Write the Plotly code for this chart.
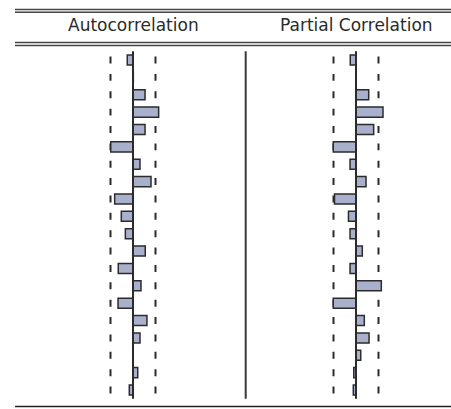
import plotly.graph_objects as go

# Correlogram: sample autocorrelation and partial autocorrelation, lags 1-20
lags = list(range(1, 21))
acf = [-0.051, 0.003, 0.107, 0.228, 0.107, -0.198, 0.062, 0.160, -0.163, -0.104,
       -0.068, 0.109, -0.131, 0.071, -0.133, 0.124, 0.062, -0.002, 0.042, -0.033]
pacf = [-0.051, 0.001, 0.113, 0.240, 0.157, -0.202, -0.053, 0.089, -0.191, -0.067,
        -0.053, 0.056, -0.053, 0.225, -0.202, 0.074, 0.116, 0.042, -0.020, -0.024]
band = 0.2  # approx. 2 standard-error bounds
headers = ["Autocorrelation", "Partial Correlation"]

W, H = 451, 409
bar_fill = "#a9b0cc"
ink = "#2b2b2b"

# horizontal scale: pixels per correlation unit, and pixel position of each zero line
px_per_unit = 112.5
zero_px = [133, 356]
half_w = W / 2
row0_px, row_step = 60, 17.37

def xrange_for(zero, dom_left):
    lo = -(zero - dom_left) / px_per_unit
    return [lo, lo + half_w / px_per_unit]

y_top = 1 - row0_px / row_step
y_bot = y_top + H / row_step

fig = go.Figure()
for i, (vals, xa) in enumerate([(acf, "x"), (pacf, "x2")]):
    fig.add_trace(go.Bar(
        x=vals, y=lags, orientation="h", width=0.58, xaxis=xa, yaxis="y",
        marker=dict(color=bar_fill, line=dict(color=ink, width=1.5)),
        showlegend=False, hoverinfo="x+y"))
    # dashed confidence bounds: one short dash per lag, behind the bars
    for s in (-1, 1):
        for lag in lags:
            fig.add_shape(type="line", xref=xa, yref="y", layer="below",
                          x0=s * band, x1=s * band, y0=lag - 0.2, y1=lag + 0.2,
                          line=dict(color=ink, width=2))
    # zero line of each panel
    fig.add_shape(type="line", xref=xa, yref="y", x0=0, x1=0,
                  y0=lags[0] - 0.5, y1=lags[-1] + 0.5,
                  line=dict(color=ink, width=2))
    fig.add_annotation(text=headers[i], xref=xa, yref="paper", x=0,
                       y=1 - 25 / H, showarrow=False, xanchor="center",
                       yanchor="middle",
                       font=dict(family="DejaVu Sans", size=17, color="#2a2a2a"))

# separator between the two panels
fig.add_shape(type="line", xref="paper", yref="y", x0=245.7 / W, x1=245.7 / W,
              y0=lags[0] - 0.5, y1=lags[-1] + 0.5, line=dict(color="#3a3a3a", width=2))

# table rules: double line on top, double line under the header, single at bottom
def hrule(py, width=1.5, color="#444"):
    fig.add_shape(type="line", xref="paper", yref="paper", x0=15 / W, x1=1,
                  y0=1 - py / H, y1=1 - py / H, line=dict(color=color, width=width))

for py in (9.5, 12.2, 42.5, 45.5):
    hrule(py)
hrule(406.5, 1.5, "#222")

fig.update_layout(
    width=W, height=H, margin=dict(l=0, r=0, t=0, b=0),
    paper_bgcolor="white", plot_bgcolor="white",
    xaxis=dict(domain=[0, 0.5], range=xrange_for(zero_px[0], 0), visible=False),
    xaxis2=dict(domain=[0.5, 1], range=xrange_for(zero_px[1], half_w), visible=False,
                anchor="y"),
    yaxis=dict(range=[y_bot, y_top], visible=False),
    barmode="overlay",
)

fig.write_html("out.html")
